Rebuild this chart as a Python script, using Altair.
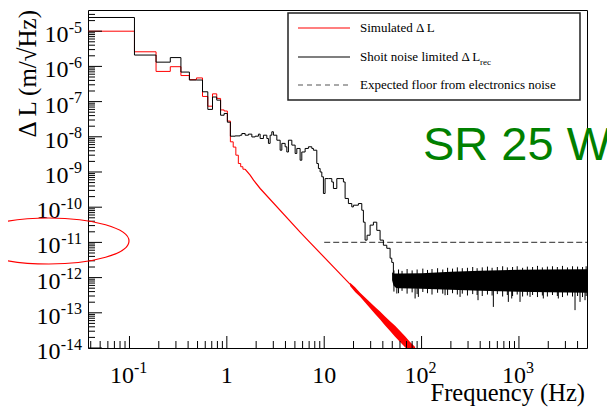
import altair as alt
import pandas as pd

# ---------------- values ----------------
# low-frequency histogram bins (left edges, Hz)
bin_edges = [0.0375, 0.1125, 0.1875, 0.2625, 0.3375, 0.4125, 0.4875,
             0.5625, 0.6375, 0.7125, 0.7875, 0.8625, 0.9375, 1.0125]
black_bins = [2.45e-5, 2.1e-6, 1.32e-6, 1.78e-6, 6.9e-7, 4.1e-7, 4.1e-7,
              1.9e-7, 6.0e-8, 1.35e-7, 1.1e-7, 4.1e-8, 4.6e-8, 2.6e-8]
red_bins = [1.0e-5, 2.6e-6, 7.2e-7, 9.8e-7, 5.5e-7, 4.2e-7, 4.7e-7,
            1.4e-7, 7.4e-8, 1.66e-7, 1.23e-7, 5.8e-8, 5.4e-8, 2.8e-8]

# red: fine bins just above 1 Hz, then the smooth fall-off
red_fine_f = [1.0875, 1.1625, 1.2375, 1.3125, 1.3875, 1.4625, 1.5375]
red_fine_v = [7.2e-9, 5.1e-9, 3.0e-9, 1.74e-9, 1.41e-9, 1.2e-9, 1.2e-9]
red_line_f = [1.5375, 1.735, 1.88, 2.198, 5.656, 7.165, 12.94, 25.26, 55.65, 76.19, 96.5]
red_line_v = [1.2e-9, 8.1e-10, 5.85e-10, 3.4e-10, 1.95e-11, 9.9e-12, 1.79e-12,
              2.6e-13, 2.63e-14, 1.07e-14, 5.3e-15]
# red noisy tail envelope
red_tail_f = [18.45, 20.76, 23.37, 26.30, 29.60, 33.31, 37.49, 42.19, 47.49,
              53.44, 60.15, 67.70, 76.19, 85.76]
red_tail_hi = [7.1e-13, 5.3e-13, 3.7e-13, 2.72e-13, 2.0e-13, 1.47e-13, 1.08e-13,
               7.9e-14, 5.8e-14, 4.27e-14, 3.04e-14, 2.16e-14, 1.49e-14, 1.06e-14]
red_tail_lo = [5.8e-13, 3.87e-13, 2.85e-13, 1.96e-13, 1.35e-13, 9.3e-14, 6.4e-14,
               4.38e-14, 3.02e-14, 2.08e-14, 1.48e-14, 1.05e-14, 7.8e-15, 5.5e-15]

# black (shot-noise limited) wiggly part from ~1 Hz to ~50 Hz
black_wig_f = [1.0875, 1.217, 1.369, 1.426, 1.542, 1.667, 1.806, 1.953, 2.111, 2.198,
               2.376, 2.575, 2.674, 2.783, 2.897, 3.009, 3.262, 3.526, 3.671, 3.969,
               4.130, 4.290, 4.650, 5.027, 5.233, 5.656, 5.888, 6.367, 6.884, 7.460,
               7.747, 8.395, 8.720, 9.077, 9.449, 9.813, 10.21, 11.04, 11.97, 12.43,
               13.47, 14.57, 15.75, 16.39, 17.72, 19.20, 19.94, 22.44, 24.32, 25.26,
               26.29, 27.57, 29.61, 32.00, 34.67, 37.49, 40.53, 43.93, 47.50, 49.43,
               51.34]
black_wig_v = [1.04e-8, 1.06e-8, 1.11e-8, 1.24e-8, 1.11e-8, 1.19e-8, 9.9e-9, 1.04e-8, 1.19e-8, 8.95e-9,
               1.11e-8, 8.95e-9, 6.5e-9, 1.11e-8, 1.39e-8, 1.11e-8, 8.0e-9, 4.16e-9, 6.5e-9, 5.2e-9,
               3.7e-9, 8.0e-9, 5.8e-9, 3.36e-9, 4.66e-9, 2.16e-9, 3.7e-9, 4.66e-9, 5.2e-9, 4.66e-9,
               4.16e-9, 1.74e-9, 1.26e-9, 1.0e-9, 7.3e-10, 2.45e-10, 6.5e-10, 6.5e-10, 5.2e-10, 3.4e-10,
               6.5e-10, 6.5e-10, 5.2e-10, 1.77e-10, 1.27e-10, 1.02e-10, 1.14e-10, 1.27e-10, 8.2e-11, 3.75e-11,
               1.16e-11, 1.6e-11, 3.1e-11, 3.75e-11, 2.2e-11, 1.16e-11, 8.3e-12, 6.8e-12, 3.56e-12, 2.7e-12,
               1.1e-12]

# black noise floor band (envelope) from ~50 Hz to 5 kHz
band_f = [49.8, 51.5, 55.0, 60.0, 100.0, 200.0, 400.0, 1000.0, 2000.0, 5000.0]
band_hi = [1.42e-12, 1.3e-12, 1.3e-12, 1.3e-12, 1.33e-12, 1.47e-12, 1.57e-12, 1.68e-12, 1.7e-12, 1.73e-12]
band_lo = [8.4e-13, 6.0e-13, 5.0e-13, 5.0e-13, 4.84e-13, 4.53e-13, 4.24e-13, 3.98e-13, 3.85e-13, 3.72e-13]
# noise fuzz at the band edges (upward / downward excursions)
fuzz_f = [52, 58, 63, 71, 80, 90, 103, 115, 128, 146,
          165, 185, 208, 233, 262, 296, 335, 372, 420, 475,
          530, 600, 680, 760, 860, 960, 1090, 1220, 1380, 1550,
          1740, 1960, 2210, 2480, 2800, 3150, 3550, 4000, 4500, 4900]
fuzz_hi = [1.6e-12, 1.7e-12, 1.55e-12, 1.75e-12, 1.6e-12, 1.7e-12, 1.8e-12, 1.65e-12, 1.75e-12, 1.85e-12,
           1.7e-12, 1.9e-12, 1.8e-12, 1.95e-12, 1.85e-12, 1.9e-12, 2.0e-12, 1.85e-12, 1.95e-12, 2.05e-12,
           1.9e-12, 2.0e-12, 2.1e-12, 1.95e-12, 2.0e-12, 2.1e-12, 1.9e-12, 2.05e-12, 2.0e-12, 2.15e-12,
           1.95e-12, 2.05e-12, 2.1e-12, 2.0e-12, 2.15e-12, 1.95e-12, 2.1e-12, 2.05e-12, 2.0e-12, 2.1e-12]
fuzz_lo = [4.0e-13, 3.6e-13, 4.2e-13, 3.5e-13, 3.8e-13, 3.4e-13, 3.9e-13, 3.6e-13, 3.3e-13, 3.7e-13,
           3.5e-13, 3.2e-13, 3.6e-13, 3.3e-13, 3.5e-13, 3.1e-13, 3.4e-13, 3.2e-13, 3.0e-13, 3.3e-13,
           3.1e-13, 3.4e-13, 2.9e-13, 3.2e-13, 3.0e-13, 3.3e-13, 2.9e-13, 3.1e-13, 3.2e-13, 2.8e-13,
           3.1e-13, 2.9e-13, 3.2e-13, 3.0e-13, 2.8e-13, 3.1e-13, 2.9e-13, 3.0e-13, 2.8e-13, 3.0e-13]
# deep downward noise spikes below the band
spike_f = [55.7, 85.8, 92.7, 174.3, 248.5, 380, 546, 778, 843, 1026, 1300, 1780, 2538, 3767, 4240, 4771]
spike_lo = [3.53e-13, 2.55e-13, 2.83e-13, 3.16e-13, 2.83e-13, 2.28e-13, 1.47e-13, 2.04e-13,
            2.55e-13, 2.04e-13, 2.83e-13, 2.55e-13, 2.55e-13, 1.19e-13, 2.04e-13, 2.28e-13]

# expected electronics-noise floor
floor_f = [10, 5000]
floor_v = [1e-11, 1e-11]

# axis ticks and labels
x_grid = [0.1, 1, 10, 100, 1000]
y_grid = [1e-13, 1e-12, 1e-11, 1e-10, 1e-9, 1e-8, 1e-7, 1e-6, 1e-5]
y_major = [1e-14, 1e-13, 1e-12, 1e-11, 1e-10, 1e-9, 1e-8, 1e-7, 1e-6, 1e-5]
y_label_exp = ["-14", "-13", "-12", "-11", "-10", "-9", "-8", "-7", "-6", "-5"]
x_major = [0.1, 1, 10, 100, 1000]
x_label_base = ["10", "1", "10", "10", "10"]
x_label_exp = ["-1", "", "", "2", "3"]
decades = [1e-2, 1e-1, 1, 10, 100, 1000]
y_decades = [1e-14, 1e-13, 1e-12, 1e-11, 1e-10, 1e-9, 1e-8, 1e-7, 1e-6, 1e-5]
mults = [2, 3, 4, 5, 6, 7, 8, 9]

# ---------------- tables ----------------
black_df = pd.DataFrame({"f": bin_edges + black_wig_f, "v": black_bins + black_wig_v})
red_step_df = pd.DataFrame({"f": bin_edges + red_fine_f, "v": red_bins + red_fine_v})
red_line_df = pd.DataFrame({"f": red_line_f, "v": red_line_v})
red_tail_df = pd.DataFrame({"f": red_tail_f, "hi": red_tail_hi, "lo": red_tail_lo})
band_df = pd.DataFrame({"f": band_f, "hi": band_hi, "lo": band_lo})
fuzz_df = pd.DataFrame({"f": fuzz_f, "hi": fuzz_hi, "lo": fuzz_lo})
spike_df = pd.DataFrame({"f": spike_f, "lo": spike_lo})
floor_df = pd.DataFrame({"f": floor_f, "v": floor_v})

x_minor = [m * d for d in decades for m in mults if 0.0375 < m * d < 5000]
y_minor = [m * d for d in y_decades for m in mults if m * d < 4e-5]
ymaj_df = pd.DataFrame({"v": y_major})
ymin_df = pd.DataFrame({"v": y_minor})
xmaj_df = pd.DataFrame({"v": x_major})
xmin_df = pd.DataFrame({"v": x_minor})

ylab_df = pd.DataFrame({"v": y_major, "base": ["10"] * len(y_major), "exp": y_label_exp})
ylab1 = ylab_df[ylab_df["exp"].str.len() == 2]
ylab2 = ylab_df[ylab_df["exp"].str.len() == 3]
xlab_df = pd.DataFrame({"v": x_major, "base": x_label_base, "exp": x_label_exp})
xlab_plain = xlab_df[xlab_df["exp"] == ""]
xlab_neg = xlab_df[xlab_df["exp"].str.len() == 2]
xlab_pos = xlab_df[xlab_df["exp"].str.len() == 1]

one = pd.DataFrame({"k": [0]})

# ---------------- chart ----------------
xs = alt.Scale(type="log", domain=[0.0375, 5000], nice=False)
ys = alt.Scale(type="log", domain=[1e-14, 4e-5], nice=False)
FONT = "Liberation Serif"


def X(f, axis=None):
    return alt.X(f, type="quantitative", scale=xs, axis=axis)


def Y(f, axis=None):
    return alt.Y(f, type="quantitative", scale=ys, axis=axis)


x_axis = alt.Axis(values=x_grid, grid=True, gridDash=[1, 2], gridColor="#333",
                  gridWidth=1, gridOpacity=1, labels=False, ticks=False,
                  domainColor="#000", domainWidth=1.5, title=None)
y_axis = alt.Axis(values=y_grid, grid=True, gridDash=[1, 2], gridColor="#333",
                  gridWidth=1, gridOpacity=1, labels=False, ticks=False,
                  domainColor="#000", domainWidth=1.5, title=None)

floor = alt.Chart(floor_df).mark_line(color="#555", strokeDash=[6, 3], strokeWidth=1.2, clip=True).encode(
    x=X("f", x_axis), y=Y("v", y_axis))
red_tail = alt.Chart(red_tail_df).mark_area(color="#ff0000", clip=True).encode(
    x=X("f"), y=Y("hi"), y2=alt.Y2("lo"))
red_step = alt.Chart(red_step_df).mark_line(color="#ff0000", strokeWidth=1, interpolate="step-after", clip=True).encode(
    x=X("f"), y=Y("v"))
red_line = alt.Chart(red_line_df).mark_line(color="#ff0000", strokeWidth=1.2, clip=True).encode(
    x=X("f"), y=Y("v"))
band = alt.Chart(band_df).mark_area(color="#000", clip=True).encode(
    x=X("f"), y=Y("hi"), y2=alt.Y2("lo"))
fuzz = alt.Chart(fuzz_df).mark_rule(color="#000", strokeWidth=1, clip=True).encode(
    x=X("f"), y=Y("hi"), y2=alt.Y2("lo"))
spikes = alt.Chart(spike_df).mark_rule(color="#000", strokeWidth=1, clip=True).encode(
    x=X("f"), y=Y("lo"), y2=alt.Y2(datum=5e-13))
black = alt.Chart(black_df).mark_line(color="#000", strokeWidth=1, interpolate="step-after", clip=True).encode(
    x=X("f"), y=Y("v"))

ymaj = alt.Chart(ymaj_df).mark_rule(color="#000", strokeWidth=1).encode(
    y=Y("v"), x=alt.value(0), x2=alt.value(14))
ymin = alt.Chart(ymin_df).mark_rule(color="#000", strokeWidth=1).encode(
    y=Y("v"), x=alt.value(0), x2=alt.value(7))
xmaj = alt.Chart(xmaj_df).mark_rule(color="#000", strokeWidth=1).encode(
    x=X("v"), y=alt.value(338), y2=alt.value(326))
xmin = alt.Chart(xmin_df).mark_rule(color="#000", strokeWidth=1).encode(
    x=X("v"), y=alt.value(338), y2=alt.value(331))


def txt(df, field, size, align, x=None, y=None, dx=0, dy=0):
    enc = {"text": alt.Text(field + ":N")}
    if x is None:
        enc["x"] = X("v")
        enc["y"] = alt.value(y)
    else:
        enc["x"] = alt.value(x)
        enc["y"] = Y("v")
    return alt.Chart(df).mark_text(font=FONT, fontSize=size, align=align, baseline="alphabetic",
                                   dx=dx, dy=dy, color="#000").encode(**enc)


ylabels = [
    txt(ylab1, "base", 24, "right", x=-19.5, dy=11),
    txt(ylab1, "exp", 16, "right", x=-6, dy=1.5),
    txt(ylab2, "base", 24, "right", x=-27.5, dy=11),
    txt(ylab2, "exp", 16, "right", x=-6, dy=1.5),
]
xlabels = [
    txt(xlab_plain, "base", 24, "center", y=372.7),
    txt(xlab_neg, "base", 24, "right", y=372.7, dx=4.5),
    txt(xlab_neg, "exp", 16, "left", y=363, dx=4.5),
    txt(xlab_pos, "base", 24, "right", y=372.7, dx=7),
    txt(xlab_pos, "exp", 16, "left", y=363, dx=7),
]


def label(text, x, y, size, **kw):
    params = dict(text=text, font=FONT, fontSize=size, color="#000", align="left", baseline="middle")
    params.update(kw)
    return alt.Chart(one).mark_text(**params).encode(x=alt.value(x), y=alt.value(y))


xtitle = label("Frequency (Hz)", 497, 391, 24.5, align="right", baseline="alphabetic")
ytitle = label("\u0394 L (m/\u221aHz)", -60, 0, 25, align="right", angle=270)

legend_box = alt.Chart(one).mark_rect(fill="#fff", stroke="#222", strokeWidth=1.5).encode(
    x=alt.value(200), x2=alt.value(492), y=alt.value(3), y2=alt.value(90))
leg_red = alt.Chart(one).mark_rule(color="#ff0000", strokeWidth=1.2).encode(
    x=alt.value(210), x2=alt.value(262), y=alt.value(18))
leg_black = alt.Chart(one).mark_rule(color="#000", strokeWidth=1.2).encode(
    x=alt.value(210), x2=alt.value(262), y=alt.value(47))
leg_dash = alt.Chart(one).mark_rule(color="#555", strokeWidth=1.2, strokeDash=[5, 4]).encode(
    x=alt.value(210), x2=alt.value(262), y=alt.value(75))
leg_t1 = label("Simulated \u0394 L", 272, 18, 13)
leg_t2 = label("Shoit noise limited \u0394 L", 272, 47, 13)
leg_t2s = label("rec", 392, 52, 9)
leg_t3 = label("Expected floor from electronics noise", 272, 75, 13)

sr = label("SR 25 W", 335, 150, 47, font="Liberation Sans", color="#008000", baseline="alphabetic")

ell_path = ("M1,0 C1,0.1588 0.5523,0.2875 0,0.2875 C-0.5523,0.2875 -1,0.1588 -1,0 "
            "C-1,-0.1588 -0.5523,-0.2875 0,-0.2875 C0.5523,-0.2875 1,-0.1588 1,0 Z")
ellipse = alt.Chart(one).mark_point(shape=ell_path, filled=False, stroke="#ff0000", strokeWidth=1.2,
                                    size=25600, opacity=1).encode(x=alt.value(-39), y=alt.value(231))

chart = alt.layer(
    floor, red_tail, red_step, red_line, band, fuzz, spikes, black,
    ymaj, ymin, xmaj, xmin, *ylabels, *xlabels, xtitle, ytitle,
    legend_box, leg_red, leg_black, leg_dash, leg_t1, leg_t2, leg_t2s, leg_t3,
    sr, ellipse,
).properties(
    width=499, height=338,
    padding={"left": 80, "top": 2, "right": 20, "bottom": 60},
    autosize=alt.AutoSizeParams(type="none"),
    background="#ffffff",
).configure_view(stroke="#000", strokeWidth=1)

chart.save("out.html", embed_options={"renderer": "svg", "actions": False})
